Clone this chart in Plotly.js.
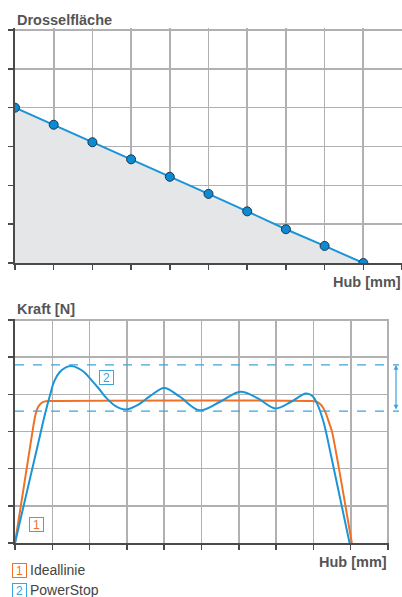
<!DOCTYPE html>
<html>
<head>
<meta charset="utf-8">
<script src="https://cdn.plot.ly/plotly-3.0.1.min.js"></script>
<style>html,body{margin:0;padding:0;background:#fff;}#chart{width:402px;height:597px;}</style>
</head>
<body>
<div id="chart"></div>
<script>
// ---- data ----
const hub = [0, 1, 2, 3, 4, 5, 6, 7, 8, 9];
const drosselflaeche = [4.0, 3.56, 3.11, 2.67, 2.22, 1.78, 1.33, 0.87, 0.44, 0.0];

const idealHub  = [0, 0.5, 0.56, 0.62, 0.7, 0.8, 0.9, 7.95, 8.08, 8.18, 8.26, 8.33, 8.4, 8.5, 9.03];
const idealKraft = [0, 3.2, 3.5, 3.66, 3.76, 3.81, 3.82, 3.82, 3.8, 3.74, 3.64, 3.5, 3.3, 2.99, 0];

const powerHub  = [0, 0.58, 0.8, 0.94, 1.05, 1.2, 1.35, 1.52, 1.7, 1.85, 2.01, 2.25, 2.46, 2.7, 2.95, 3.3, 3.62, 4.0, 4.4, 4.95, 5.5, 6.04, 6.5, 6.98, 7.4, 7.8, 7.98, 8.1, 8.27, 8.47, 8.97];
const powerKraft = [0, 2.5, 3.45, 3.98, 4.35, 4.6, 4.72, 4.76, 4.7, 4.6, 4.43, 4.15, 3.89, 3.68, 3.59, 3.72, 3.95, 4.17, 3.95, 3.57, 3.8, 4.07, 3.9, 3.62, 3.8, 4.02, 3.95, 3.75, 3.26, 2.37, 0];

const toleranz = [3.55, 4.79];

const gridX = [0, 1, 2, 3, 4, 5, 6, 7, 8, 9, 10];
const gridY = [0, 1, 2, 3, 4, 5, 6];

const labels = {
  titleTop: 'Drosselfläche',
  titleBottom: 'Kraft [N]',
  xTitle: 'Hub [mm]',
  series1: 'Ideallinie',
  series2: 'PowerStop'
};

// ---- styles ----
const W = 402, H = 597;
const BLUE = '#1b95d6', ORANGE = '#f07125', LBLUE = '#3aa4dc';
const GRID = '#b1b1b3', AXIS = '#4a4a4a', TXT = '#555555';
const px = v => v / W;
const py = v => (H - v) / H;
const EPS = 0.04; // small headroom so the border gridlines at the range end are drawn

const axisCommon = {
  showgrid: true, gridcolor: GRID, gridwidth: 1.6,
  showline: true, linecolor: AXIS, linewidth: 2,
  zeroline: false, showticklabels: false,
  ticks: 'outside', ticklen: 5, tickwidth: 1.5, tickcolor: AXIS,
  fixedrange: true
};

const traces = [
  {
    x: hub, y: drosselflaeche, xaxis: 'x', yaxis: 'y',
    type: 'scatter', mode: 'lines+markers',
    fill: 'tozeroy', fillcolor: '#e5e6e7',
    line: {color: BLUE, width: 2},
    marker: {color: '#0a8bd3', size: 9, line: {color: '#1d3550', width: 1}},
    hoverinfo: 'none', showlegend: false
  },
  {
    x: idealHub, y: idealKraft, xaxis: 'x2', yaxis: 'y2',
    type: 'scatter', mode: 'lines', name: labels.series1,
    line: {color: ORANGE, width: 2, shape: 'spline', smoothing: 0.6},
    hoverinfo: 'none', showlegend: false
  },
  {
    x: powerHub, y: powerKraft, xaxis: 'x2', yaxis: 'y2',
    type: 'scatter', mode: 'lines', name: labels.series2,
    line: {color: BLUE, width: 2, shape: 'spline', smoothing: 1},
    hoverinfo: 'none', showlegend: false
  }
];

const shapes = toleranz.map(t => ({
  type: 'line', xref: 'paper', yref: 'y2',
  x0: px(15), x1: px(399), y0: t, y1: t,
  line: {color: LBLUE, width: 1.2, dash: 'dash'}
}));

const titleFont = {family: 'Liberation Sans, Arial, sans-serif', size: 14.5, color: TXT, weight: 'bold'};
const bodyFont = {family: 'Liberation Sans, Arial, sans-serif', size: 14, color: '#444444'};

function boxLabel(text, color, x, y, xref, yref) {
  return {
    text: text, x: x, y: y, xref: xref, yref: yref, showarrow: false,
    font: {family: 'Liberation Sans, Arial, sans-serif', size: 12, color: color},
    bordercolor: color, borderwidth: 1, borderpad: 0, bgcolor: 'rgba(255,255,255,0)',
    width: 13, height: 13, xanchor: 'center', yanchor: 'middle'
  };
}

const annotations = [
  {text: '<b>' + labels.titleTop + '</b>', xref: 'paper', yref: 'paper', x: px(15), y: py(20), xanchor: 'left', yanchor: 'middle', showarrow: false, font: titleFont},
  {text: '<b>' + labels.xTitle + '</b>', xref: 'paper', yref: 'paper', x: px(403), y: py(282), xanchor: 'right', yanchor: 'middle', showarrow: false, font: titleFont},
  {text: '<b>' + labels.titleBottom + '</b>', xref: 'paper', yref: 'paper', x: px(15), y: py(309), xanchor: 'left', yanchor: 'middle', showarrow: false, font: titleFont},
  {text: '<b>' + labels.xTitle + '</b>', xref: 'paper', yref: 'paper', x: px(389), y: py(562), xanchor: 'right', yanchor: 'middle', showarrow: false, font: titleFont},
  // tolerance arrow
  {text: '', xref: 'paper', yref: 'y2', x: px(396), y: toleranz[1], axref: 'pixel', ax: 0, ayref: 'y2', ay: toleranz[0],
   showarrow: true, arrowside: 'start+end', arrowhead: 2, arrowsize: 0.8, arrowwidth: 1.2, arrowcolor: LBLUE, startarrowhead: 2, startarrowsize: 0.8},
  // in-chart labels
  boxLabel('1', ORANGE, 0.58, 0.5, 'x2', 'y2'),
  boxLabel('2', LBLUE, 2.46, 4.45, 'x2', 'y2'),
  // legend
  boxLabel('1', ORANGE, px(19.5), py(570), 'paper', 'paper'),
  {text: labels.series1, xref: 'paper', yref: 'paper', x: px(28), y: py(570), xanchor: 'left', yanchor: 'middle', showarrow: false, font: bodyFont},
  boxLabel('2', LBLUE, px(19.5), py(590), 'paper', 'paper'),
  {text: labels.series2, xref: 'paper', yref: 'paper', x: px(28), y: py(589.5), xanchor: 'left', yanchor: 'middle', showarrow: false, font: bodyFont}
];

// pixel scales
const topUnitY = (263 - 30) / 6;
const botUnitX = (388 - 15) / 10;
const botUnitY = (543 - 320) / 6;

const layout = {
  width: W, height: H,
  margin: {l: 0, r: 0, t: 0, b: 0, pad: 0},
  paper_bgcolor: '#ffffff', plot_bgcolor: '#ffffff',
  showlegend: false,
  xaxis: Object.assign({}, axisCommon, {domain: [px(15), 1], range: [0, 10], tickvals: gridX, anchor: 'y'}),
  yaxis: Object.assign({}, axisCommon, {domain: [py(263), py(30 - EPS * topUnitY)], range: [0, 6 + EPS], tickvals: gridY, anchor: 'x'}),
  xaxis2: Object.assign({}, axisCommon, {domain: [px(15), px(388 + EPS * botUnitX)], range: [0, 10 + EPS], tickvals: gridX, anchor: 'y2'}),
  yaxis2: Object.assign({}, axisCommon, {domain: [py(543), py(320 - EPS * botUnitY)], range: [0, 6 + EPS], tickvals: gridY, anchor: 'x2'}),
  shapes: shapes,
  annotations: annotations
};

Plotly.newPlot('chart', traces, layout, {displayModeBar: false, staticPlot: true});
</script>
</body>
</html>
